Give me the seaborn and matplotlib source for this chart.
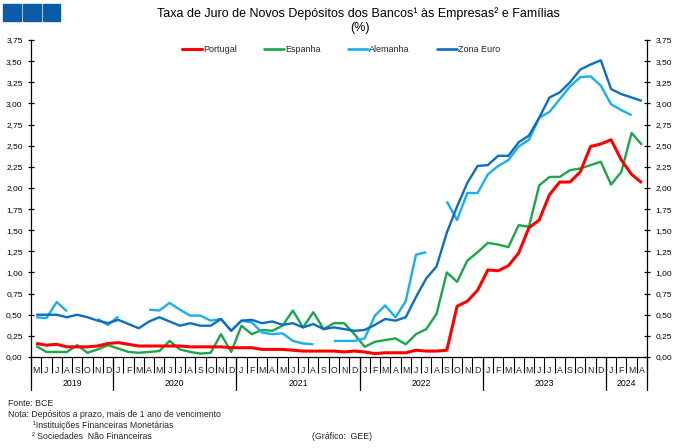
import numpy as np
import pandas as pd
import matplotlib
matplotlib.use("Agg")
import matplotlib.pyplot as plt
import matplotlib.transforms as mtransforms
from matplotlib.lines import Line2D
from matplotlib.patches import Rectangle
import seaborn as sns

# ---------------- data ----------------
month_letters = (["M", "J", "J", "A", "S", "O", "N", "D"]
                 + ["J", "F", "M", "A", "M", "J", "J", "A", "S", "O", "N", "D"] * 4
                 + ["J", "F", "M", "A"])
years = ["2019", "2020", "2021", "2022", "2023", "2024"]
year_counts = [8, 12, 12, 12, 12, 4]

nan = np.nan
portugal = [0.16, 0.14, 0.15, 0.12, 0.12, 0.12, 0.13, 0.16,
            0.17, 0.15, 0.13, 0.13, 0.13, 0.13, 0.13, 0.12, 0.12, 0.12, 0.12, 0.11,
            0.11, 0.11, 0.09, 0.09, 0.09, 0.08, 0.07, 0.07, 0.07, 0.07, 0.06, 0.07,
            0.06, 0.04, 0.05, 0.05, 0.05, 0.08, 0.07, 0.07, 0.08, 0.60, 0.66, 0.79,
            1.03, 1.02, 1.08, 1.23, 1.53, 1.62, 1.92, 2.07, 2.07, 2.19, 2.49, 2.52,
            2.57, 2.33, 2.16, 2.06]
espanha = [0.13, 0.06, 0.06, 0.06, 0.14, 0.05, 0.09, 0.14,
           0.10, 0.06, 0.05, 0.06, 0.07, 0.19, 0.09, 0.06, 0.04, 0.05, 0.27, 0.06,
           0.37, 0.27, 0.32, 0.31, 0.37, 0.55, 0.35, 0.53, 0.33, 0.40, 0.40, 0.27,
           0.12, 0.18, 0.20, 0.22, 0.15, 0.27, 0.33, 0.51, 1.00, 0.89, 1.14, 1.24,
           1.35, 1.33, 1.30, 1.56, 1.54, 2.03, 2.13, 2.13, 2.21, 2.23, 2.27, 2.31,
           2.04, 2.19, 2.65, 2.51]
alemanha = [0.47, 0.46, 0.65, 0.54, nan, nan, 0.45, 0.38,
            0.48, nan, nan, 0.56, 0.55, 0.64, 0.56, 0.49, 0.49, 0.43, 0.45, 0.31,
            0.43, 0.41, 0.29, 0.27, 0.28, 0.19, 0.16, 0.15, nan, 0.19, 0.19, 0.19,
            0.22, 0.49, 0.61, 0.47, 0.66, 1.21, 1.24, nan, 1.84, 1.62, 1.94, 1.94,
            2.16, 2.26, 2.33, 2.49, 2.57, 2.83, 2.90, 3.05, 3.20, 3.31, 3.32, 3.21,
            2.99, 2.92, 2.86, nan]
zona_euro = [0.50, 0.50, 0.50, 0.47, 0.50, 0.47, 0.43, 0.40,
             0.44, 0.39, 0.34, 0.42, 0.47, 0.42, 0.37, 0.40, 0.37, 0.37, 0.45, 0.31,
             0.43, 0.44, 0.40, 0.42, 0.38, 0.40, 0.35, 0.39, 0.33, 0.35, 0.33, 0.31,
             0.32, 0.38, 0.45, 0.43, 0.47, 0.71, 0.93, 1.07, 1.47, 1.78, 2.06, 2.26,
             2.27, 2.38, 2.38, 2.54, 2.62, 2.83, 3.07, 3.13, 3.25, 3.40, 3.46, 3.51,
             3.17, 3.11, 3.07, 3.03]

series_names = ["Portugal", "Espanha", "Alemanha", "Zona Euro"]
series_values = [portugal, espanha, alemanha, zona_euro]
colors = {"Portugal": "#FF0000", "Espanha": "#1AA64B",
          "Alemanha": "#1AAEEF", "Zona Euro": "#0A6FBF"}
widths = {"Portugal": 2.2, "Espanha": 1.7, "Alemanha": 1.7, "Zona Euro": 1.7}
y_ticks = [0.0, 0.25, 0.5, 0.75, 1.0, 1.25, 1.5, 1.75, 2.0, 2.25, 2.5, 2.75,
           3.0, 3.25, 3.5, 3.75]

# long form table, with a unit id for each unbroken segment
rows = []
for name, vals in zip(series_names, series_values):
    seg = 0
    prev_nan = False
    for i, v in enumerate(vals):
        if np.isnan(v):
            prev_nan = True
            continue
        if prev_nan:
            seg += 1
            prev_nan = False
        rows.append({"serie": name, "mes": i, "valor": v, "unit": f"{name}_{seg}"})
df = pd.DataFrame(rows)

# ---------------- style ----------------
sns.set_style("white")
plt.rcParams["font.family"] = ["Liberation Sans", "DejaVu Sans"]
plt.rcParams["axes.linewidth"] = 0.9

W, H = 680, 448
fig = plt.figure(figsize=(W / 100, H / 100), dpi=100)
ax = fig.add_axes([31 / W, (H - 357) / H, 616 / W, 317 / H])

n = len(month_letters)
for name in ["Espanha", "Alemanha", "Zona Euro", "Portugal"]:
    sub = df[df["serie"] == name]
    sns.lineplot(data=sub, x="mes", y="valor", units="unit", estimator=None,
                 color=colors[name], linewidth=widths[name], ax=ax,
                 legend=False, solid_capstyle="butt")

ax.set_xlim(-0.5, n - 0.5)
ax.set_ylim(0, 3.75)
ax.set_xlabel("")
ax.set_ylabel("")

# y axis on both sides
ax.set_yticks(y_ticks)
ax.set_yticklabels([f"{t:.2f}".replace(".", ",") for t in y_ticks])
ax.tick_params(axis="y", which="both", direction="inout", length=5, width=0.9,
               pad=3.5, labelsize=6, left=True, right=True,
               labelleft=True, labelright=True, colors="black")

# x axis: month letters at centres, separators at boundaries
ax.set_xticks(range(n))
ax.set_xticklabels(month_letters)
ax.set_xticks(np.arange(-0.5, n, 1.0), minor=True)
ax.tick_params(axis="x", which="major", bottom=True, length=0, pad=6.5,
               labelsize=6.3)
ax.tick_params(axis="x", which="minor", bottom=True, length=11.5, width=0.8,
               direction="out", color="black")

for s in ["top"]:
    ax.spines[s].set_visible(False)
for s in ["left", "right", "bottom"]:
    ax.spines[s].set_visible(True)
    ax.spines[s].set_color("black")

# year separators and year labels
trans = mtransforms.blended_transform_factory(ax.transData, ax.transAxes)
bounds = np.cumsum([0] + year_counts) - 0.5
for b in bounds:
    ax.add_line(Line2D([b, b], [0, -33 / 317], transform=trans, color="black",
                       lw=0.9, clip_on=False))
for k, yr in enumerate(years):
    c = (bounds[k] + bounds[k + 1]) / 2
    ax.text(c, -26 / 317, yr, transform=trans, ha="center", va="center",
            fontsize=6.3, color="black")

# legend
handles = [Line2D([0], [0], color=colors[nm], lw=2.2 if nm == "Portugal" else 1.9)
           for nm in series_names]
fig.legend(handles, series_names, loc="center", bbox_to_anchor=(341 / W, 1 - 50 / H),
           ncol=4, frameon=False, fontsize=6.5, handlelength=2.2,
           handletextpad=0.15, columnspacing=3.0)

# title
fig.text(358 / W, 1 - 14 / H,
         "Taxa de Juro de Novos Depósitos dos Bancos¹ às Empresas² e Famílias",
         ha="center", va="center", fontsize=9, color="black")
fig.text(360 / W, 1 - 28 / H, "(%)", ha="center", va="center", fontsize=9,
         color="black")

# logo squares
for x0 in [3, 23, 43]:
    fig.patches.append(Rectangle((x0 / W, 1 - 21 / H), 17.5 / W, 17 / H,
                                 transform=fig.transFigure, color="#0B5BA8",
                                 zorder=5))

# footnotes
fs = 6.3
fig.text(8 / W, 1 - 403 / H, "Fonte: BCE", fontsize=fs, va="center")
fig.text(8 / W, 1 - 414 / H, "Nota: Depósitos a prazo, mais de 1 ano de vencimento",
         fontsize=fs, va="center")
fig.text(33 / W, 1 - 425 / H, "¹Instituições Financeiras Monetárias",
         fontsize=fs, va="center")
fig.text(32 / W, 1 - 436 / H, "² Sociedades  Não Financeiras", fontsize=fs,
         va="center")
fig.text(312 / W, 1 - 436 / H, "(Gráfico:  GEE)", fontsize=fs, va="center")

fig.savefig("out.png", dpi=100, facecolor="white")
